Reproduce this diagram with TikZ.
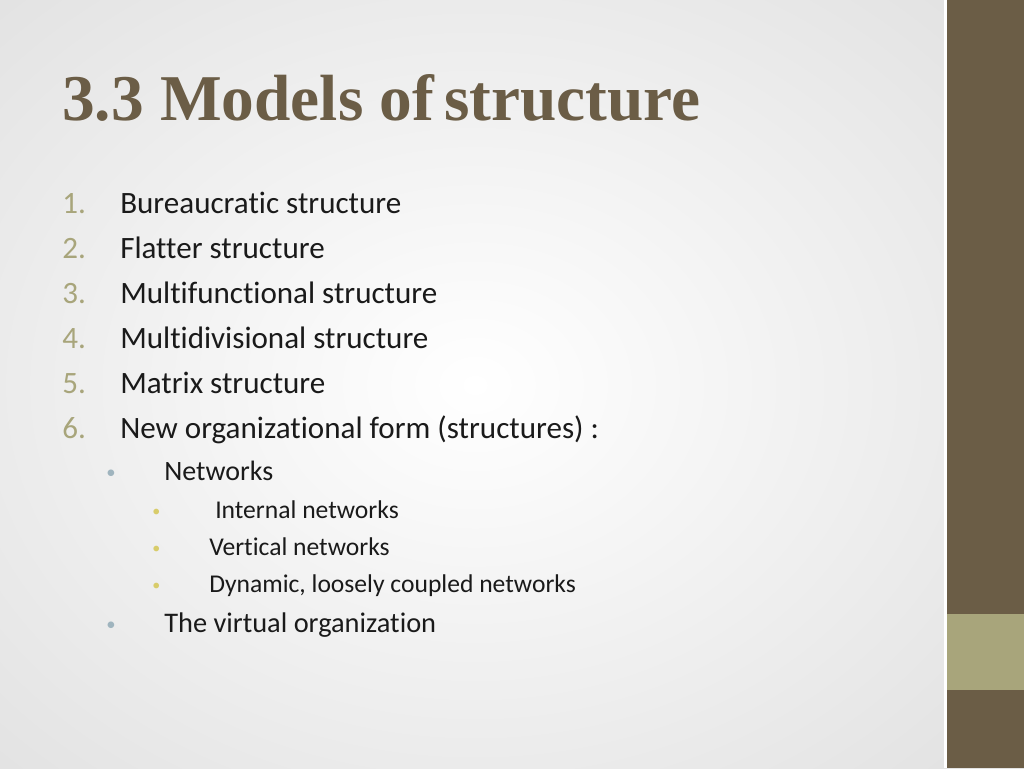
\documentclass[tikz,border=0pt]{standalone}
\usepackage{fontspec}
\setmainfont[RawFeature=-liga]{Carlito}
\newfontfamily\titlefont{Liberation Serif}
\definecolor{dbrown}{HTML}{6B5D46}
\definecolor{olive}{HTML}{A8A57B}
\definecolor{bul}{HTML}{9FB4BE}
\definecolor{bul2}{HTML}{D8CC6A}
\definecolor{txt}{HTML}{1A1A1A}
\begin{document}
\begin{tikzpicture}[x=0.75pt,y=-0.75pt,
  num/.style={anchor=base west,text=olive,font=\fontsize{23.3}{26}\selectfont},
  item/.style={anchor=base west,text=txt,font=\fontsize{23.3}{26}\selectfont},
  sub/.style={anchor=base west,text=txt,font=\fontsize{19.2}{22}\selectfont},
  bl/.style={anchor=base west,text=bul,font=\fontsize{14}{16}\selectfont},
  bll/.style={anchor=base west,text=bul2,font=\fontsize{12}{14}\selectfont}]
\useasboundingbox (0,0) rectangle (1024,768);
\shade[inner color=white,outer color=gray!22] (-200,-150) rectangle (1150,920);
\fill[white] (944,0) rectangle (947,768);
\fill[dbrown] (947,0) rectangle (1024,768);
\fill[olive] (947,614) rectangle (1024,690);
\node[anchor=base west,text=dbrown,font=\titlefont\bfseries\fontsize{49}{54}\selectfont,inner sep=0] (t) at (62,120) {3.3 Models of\hspace{-0.1em} structure};
\foreach \n/\t/\y in {1/Bureaucratic structure/213,2/Flatter structure/258,3/Multifunctional structure/303,4/Multidivisional structure/348,5/Matrix structure/393,6/{New organizational form (structures) :}/438}{
  \node[num,inner sep=0] (n\n) at (62,\y) {\n.};
  \node[item,inner sep=0] (i\n) at (120,\y) {\t};
}
\node[bl,inner sep=0] (b1) at (106,478) {•};
\node[item,inner sep=0,font=\fontsize{21}{24}\selectfont] (s1) at (164,480) {Networks};
\node[bll,inner sep=0] (c1) at (152,516) {•};
\node[sub,inner sep=0] (s2) at (215,518) {Internal networks};
\node[bll,inner sep=0] (c2) at (152,553) {•};
\node[sub,inner sep=0] (s3) at (209,555) {Vertical networks};
\node[bll,inner sep=0] (c3) at (152,590) {•};
\node[sub,inner sep=0] (s4) at (209,592) {Dynamic, loosely coupled networks};
\node[bl,inner sep=0] (b2) at (106,630) {•};
\node[item,inner sep=0,font=\fontsize{21.3}{24}\selectfont] (s5) at (164,632) {The virtual organization};
\end{tikzpicture}
\end{document}
